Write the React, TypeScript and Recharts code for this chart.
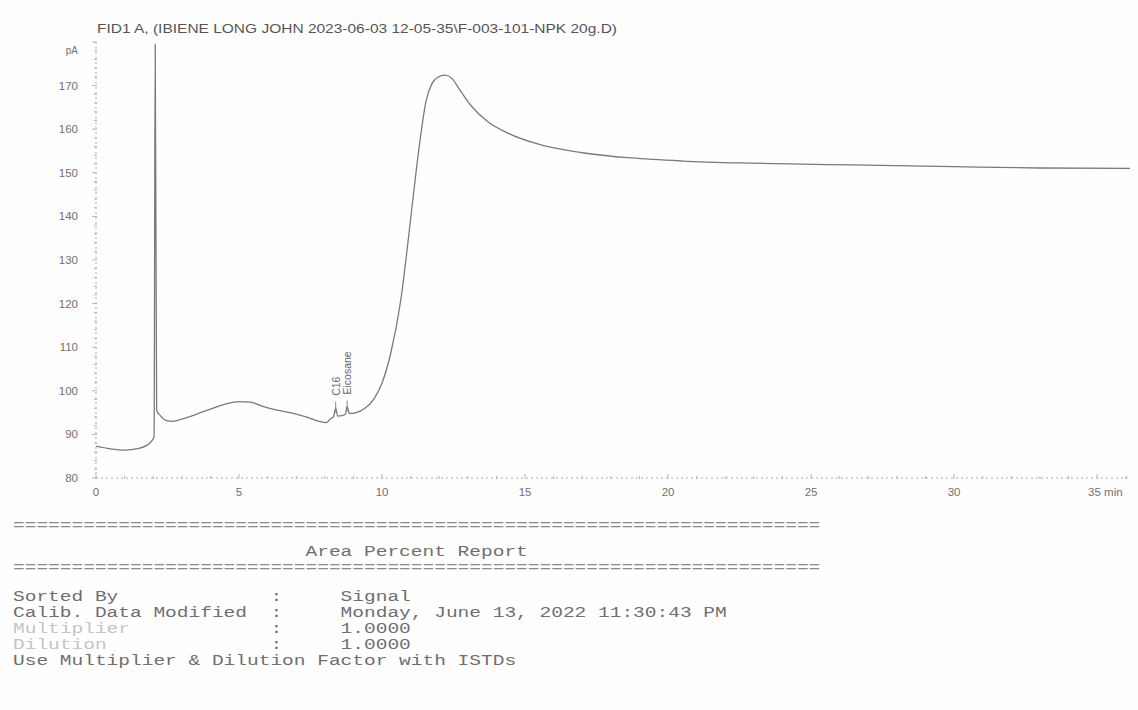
import { LabelList, Line, LineChart, XAxis, YAxis } from "recharts";

// retention time (min) and FID signal (pA)
const times = [
  0, 0.5, 1.0, 1.5, 1.8, 1.95, 2.03, 2.07, 2.12, 2.25, 2.45, 2.7, 3.0, 3.5, 4.0, 4.5, 5.0, 5.4, 5.8, 6.3, 6.9,
  7.4, 7.8, 8.05, 8.2, 8.3, 8.38, 8.45, 8.6, 8.72, 8.78, 8.85, 9.1, 9.4, 9.7, 10.0, 10.3, 10.66, 10.87, 11.08,
  11.3, 11.54, 11.75, 11.95, 12.2, 12.45, 12.7, 13.1, 13.7, 14.4, 15.5, 17.0, 18.7, 20.5, 23.0, 26.4, 30.0,
  33.0, 36.15,
];
const signal = [
  87.3, 86.7, 86.4, 86.8, 87.6, 88.5, 89.5, 179.5, 95.5, 94.3, 93.2, 93.0, 93.5, 94.6, 95.8, 96.9, 97.5, 97.4,
  96.5, 95.6, 94.8, 93.9, 93.0, 92.7, 93.6, 94.0, 96.1, 94.2, 94.3, 94.6, 96.4, 94.8, 95.0, 96.0, 98.0, 101.8,
  108.5, 121.0, 132.0, 144.0, 156.0, 166.5, 170.5, 171.9, 172.4, 171.6, 169.2, 165.5, 161.7, 159.1, 156.5,
  154.6, 153.4, 152.7, 152.2, 151.8, 151.4, 151.1, 151.0,
];
const peakTimes = [8.38, 8.78];
const peakNames = ["C16", "Eicosane"];

const yMajor = [80, 90, 100, 110, 120, 130, 140, 150, 160, 170, 180];
const xMajor = [0, 5, 10, 15, 20, 25, 30, 35];

const title = "FID1 A, (IBIENE LONG JOHN 2023-06-03 12-05-35\\F-003-101-NPK 20g.D)";
const reportTitle = "Area Percent Report";
const reportRows = [
  ["Sorted By", ":", "Signal"],
  ["Calib. Data Modified", ":", "Monday, June 13, 2022 11:30:43 PM"],
  ["Multiplier", ":", "1.0000"],
  ["Dilution", ":", "1.0000"],
  ["Use Multiplier & Dilution Factor with ISTDs", "", ""],
];

const data = times.map((t, i) => {
  const k = peakTimes.indexOf(t);
  return { t, v: signal[i], label: k >= 0 ? peakNames[k] : undefined };
});

const yTicks = Array.from({ length: 51 }, (_, i) => 80 + i * 2);
const xTicks = Array.from({ length: 37 }, (_, i) => i);

const sans = "'Liberation Sans', Arial, sans-serif";
const mono = "'Liberation Mono', 'DejaVu Sans Mono', monospace";
const CH = 11.7; // printer character pitch

function YTick({ x, y, payload }: any) {
  const v = payload.value;
  const major = yMajor.includes(v);
  return (
    <g>
      <line x1={x - (major ? 4 : 2)} x2={x + 1} y1={y} y2={y} stroke="#b5b5b5" />
      {major && v < 180 && (
        <text x={x - 18} y={y + 4} textAnchor="end" fontSize={11.5} fill="#707070" fontFamily={sans}>
          {v}
        </text>
      )}
      {v === 180 && (
        <text x={x - 18} y={y + 12} textAnchor="end" fontSize={10} fill="#707070" fontFamily={sans}>
          pA
        </text>
      )}
    </g>
  );
}

function XTick({ x, y, payload }: any) {
  const v = payload.value;
  const major = xMajor.includes(v);
  return (
    <g>
      <line x1={x} x2={x} y1={y - (major ? 4 : 2)} y2={y + 1} stroke="#b5b5b5" />
      {major && (
        <text
          x={v === 35 ? x - 9 : x}
          y={y + 18}
          textAnchor={v === 35 ? "start" : "middle"}
          fontSize={11.5}
          fill="#707070"
          fontFamily={sans}
        >
          {v === 35 ? "35 min" : v}
        </text>
      )}
    </g>
  );
}

function PeakLabel({ x, y, value }: any) {
  if (!value) return null;
  return (
    <g>
      <line x1={x} x2={x} y1={y - 6} y2={y + 5} stroke="#888" />
      <text
        transform={`translate(${x + 4},${y - 12}) rotate(-90)`}
        fontSize={10.5}
        fill="#666"
        fontFamily={sans}
      >
        {value}
      </text>
    </g>
  );
}

function MonoText({ x, y, text, fill = "#6f6f6f" }: { x: number; y: number; text: string; fill?: string }) {
  if (!text) return null;
  return (
    <text
      x={x}
      y={y}
      fontSize={14}
      fill={fill}
      fontFamily={mono}
      textLength={text.length * CH}
      lengthAdjust="spacingAndGlyphs"
    >
      {text}
    </text>
  );
}

export default function App() {
  const rule = "=".repeat(69);
  return (
    <div style={{ position: "absolute", left: 0, top: 0, width: 1138, height: 710, background: "#fefefe" }}>
      <div style={{ position: "absolute", left: 0, top: 0 }}>
        <LineChart width={1138} height={500} data={data} margin={{ top: 42, right: 8, left: 0, bottom: 0 }}>
          <XAxis
            dataKey="t"
            type="number"
            domain={[0, 36.15]}
            allowDataOverflow
            ticks={xTicks}
            interval={0}
            height={22}
            tickSize={0}
            tickMargin={0}
            tick={<XTick />}
            axisLine={{ stroke: "#aaa", strokeDasharray: "2 3" }}
          />
          <YAxis
            type="number"
            domain={[80, 180]}
            allowDataOverflow
            ticks={yTicks}
            interval={0}
            width={96}
            tickSize={0}
            tickMargin={0}
            tick={<YTick />}
            axisLine={{ stroke: "#aaa", strokeDasharray: "2 3" }}
          />
          <Line
            type="monotone"
            dataKey="v"
            stroke="#7a7a7a"
            strokeWidth={1.3}
            dot={false}
            isAnimationActive={false}
          >
            <LabelList dataKey="label" content={<PeakLabel />} />
          </Line>
        </LineChart>
      </div>
      <svg width={1138} height={710} style={{ position: "absolute", left: 0, top: 0, pointerEvents: "none" }}>
        <text x={97} y={33} fontSize={12} fill="#555" fontFamily={sans} textLength={520} lengthAdjust="spacingAndGlyphs">
          {title}
        </text>
        <MonoText x={13} y={530} text={rule} fill="#8a8a8a" />
        <MonoText x={13 + 25 * CH} y={556} text={reportTitle} />
        <MonoText x={13} y={572} text={rule} fill="#8a8a8a" />
        {reportRows.map((row, i) => {
          const faint = i === 2 || i === 3;
          return (
            <g key={row[0]}>
              <MonoText x={13} y={601 + i * 16} text={row[0]} fill={faint ? "#c4c4c4" : "#6f6f6f"} />
              <MonoText x={13 + 22 * CH} y={601 + i * 16} text={row[1]} />
              <MonoText x={13 + 28 * CH} y={601 + i * 16} text={row[2]} />
            </g>
          );
        })}
      </svg>
    </div>
  );
}
